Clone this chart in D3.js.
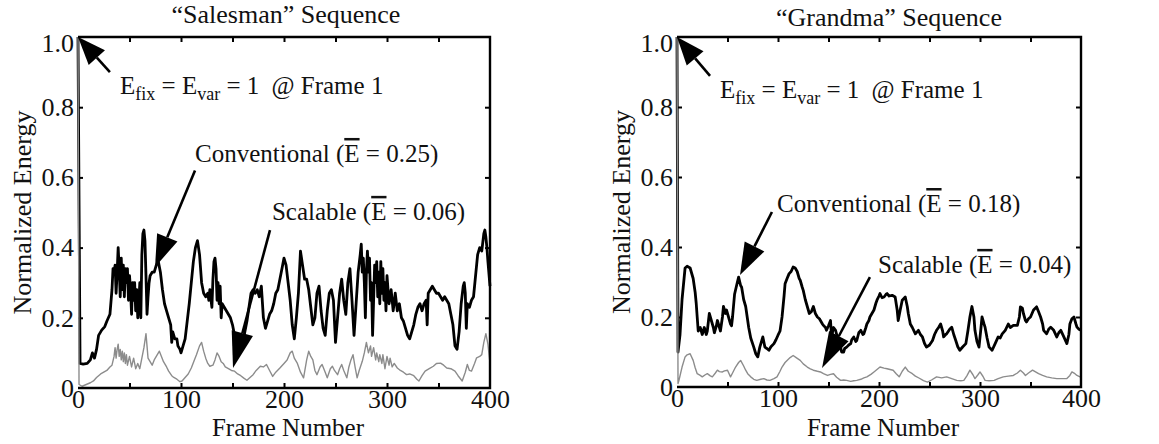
<!DOCTYPE html>
<html>
<head>
<meta charset="utf-8">
<script src="https://cdn.jsdelivr.net/npm/d3@7"></script>
<style>
	body { margin: 0; background: #fff; }
	svg text { font-family: "Liberation Serif", "Times New Roman", Times, serif !important; fill: #111; }
</style>
</head>
<body>
<script>

// Waarden: [ frame, genormaliseerde energie ]
const salesConv = [
	[0,1.0],[2,0.07],[5,0.068],[9,0.07],[12,0.08],[14,0.10],[16,0.085],[18,0.11],[20,0.15],[23,0.165],[26,0.175],[28,0.19],[31,0.21],
	[33,0.28],[34,0.34],[35,0.33],[36,0.35],[37,0.27],[38,0.33],[39,0.40],[40,0.34],[41,0.26],[42,0.37],[43,0.28],[44,0.35],[45,0.26],
	[46,0.34],[47,0.30],[48,0.34],[49,0.25],[50,0.32],[51,0.28],[52,0.21],[53,0.30],[54,0.25],[55,0.30],[56,0.22],[57,0.28],[58,0.20],
	[59,0.24],[60,0.30],[61,0.20],[62,0.38],[63,0.44],[64,0.45],[65,0.42],[66,0.32],[67,0.21],[68,0.26],[69,0.30],[70,0.32],[72,0.33],
	[74,0.33],[76,0.35],[78,0.36],[80,0.33],[82,0.28],[84,0.24],[86,0.22],[88,0.20],[90,0.18],[91,0.13],[92,0.16],[94,0.14],[96,0.14],
	[97,0.12],[99,0.11],[100,0.10],[102,0.12],[104,0.14],[106,0.19],[108,0.24],[110,0.30],[112,0.36],[114,0.40],[116,0.42],[118,0.38],
	[120,0.30],[122,0.27],[124,0.26],[126,0.27],[127,0.25],[128,0.28],[130,0.23],[131,0.31],[132,0.36],[133,0.37],[134,0.34],[135,0.25],
	[136,0.30],[137,0.24],[138,0.29],[139,0.20],[140,0.24],[142,0.23],[144,0.22],[146,0.21],[148,0.20],[150,0.18],[152,0.15],[154,0.14],
	[156,0.13],[158,0.15],[160,0.13],[162,0.16],[164,0.19],[166,0.23],[168,0.27],[170,0.28],[172,0.27],[174,0.28],[176,0.26],[178,0.29],
	[180,0.20],[182,0.17],[184,0.19],[186,0.21],[188,0.22],[190,0.24],[192,0.27],[194,0.28],[196,0.31],[198,0.34],[200,0.37],[202,0.35],
	[204,0.30],[206,0.25],[208,0.18],[210,0.14],[212,0.20],[214,0.27],[216,0.39],[218,0.35],[220,0.31],[222,0.31],[224,0.28],[226,0.23],
	[228,0.18],[230,0.20],[232,0.27],[234,0.29],[236,0.22],[238,0.17],[240,0.15],[242,0.22],[244,0.27],[246,0.28],[248,0.25],[250,0.13],
	[252,0.20],[254,0.27],[256,0.31],[258,0.25],[260,0.21],[262,0.30],[264,0.34],[266,0.25],[268,0.15],[270,0.24],[272,0.33],[274,0.38],
	[275,0.41],[276,0.33],[277,0.37],[278,0.30],[279,0.20],[280,0.33],[281,0.39],[282,0.33],[283,0.37],[284,0.25],[285,0.30],[286,0.15],
	[287,0.25],[288,0.35],[289,0.30],[290,0.36],[291,0.26],[292,0.33],[293,0.24],[294,0.36],[295,0.27],[296,0.34],[297,0.25],[298,0.30],
	[299,0.22],[300,0.32],[302,0.24],[304,0.28],[306,0.22],[308,0.27],[310,0.22],[312,0.24],[314,0.20],[316,0.19],[318,0.17],[320,0.15],
	[322,0.14],[324,0.16],[326,0.18],[328,0.21],[330,0.23],[332,0.24],[334,0.22],[336,0.24],[338,0.25],[339,0.18],[340,0.27],[342,0.28],
	[344,0.29],[346,0.28],[348,0.27],[350,0.27],[352,0.26],[354,0.25],[356,0.26],[358,0.25],[360,0.24],[362,0.21],[364,0.18],[366,0.12],
	[368,0.11],[370,0.16],[372,0.24],[374,0.29],[375,0.30],[376,0.27],[377,0.17],[378,0.24],[380,0.23],[382,0.25],[384,0.26],[386,0.32],
	[388,0.38],[390,0.40],[392,0.39],[394,0.44],[395,0.45],[396,0.43],[397,0.40],[398,0.36],[400,0.29]
]

const salesScal = [
	[0,1.0],[1,0.01],[4,0.005],[8,0.01],[12,0.015],[15,0.02],[18,0.03],[22,0.04],[25,0.045],[28,0.05],[31,0.06],[33,0.065],[35,0.09],
	[36,0.115],[37,0.085],[38,0.11],[39,0.125],[40,0.09],[41,0.11],[42,0.08],[43,0.105],[44,0.075],[45,0.1],[46,0.07],[47,0.095],[48,0.065],
	[50,0.09],[52,0.06],[54,0.085],[56,0.055],[58,0.07],[60,0.055],[62,0.085],[64,0.115],[66,0.155],[67,0.12],[68,0.085],[70,0.075],
	[72,0.065],[74,0.08],[76,0.09],[79,0.105],[81,0.09],[83,0.075],[86,0.06],[88,0.048],[91,0.035],[93,0.03],[96,0.025],[99,0.018],
	[101,0.02],[104,0.03],[107,0.04],[110,0.057],[113,0.08],[115,0.095],[118,0.12],[120,0.13],[122,0.105],[124,0.085],[126,0.07],
	[128,0.062],[131,0.065],[133,0.08],[135,0.1],[137,0.09],[139,0.075],[141,0.07],[143,0.06],[146,0.055],[149,0.05],[152,0.048],
	[155,0.04],[158,0.035],[161,0.028],[164,0.022],[167,0.03],[170,0.038],[173,0.05],[177,0.062],[180,0.06],[183,0.067],[186,0.05],
	[189,0.033],[192,0.045],[196,0.057],[200,0.07],[203,0.08],[206,0.1],[208,0.105],[210,0.085],[213,0.07],[216,0.045],[219,0.029],
	[222,0.08],[224,0.105],[226,0.09],[228,0.08],[230,0.05],[232,0.038],[235,0.06],[237,0.067],[240,0.045],[242,0.029],[245,0.055],
	[247,0.062],[249,0.05],[252,0.038],[254,0.055],[256,0.067],[258,0.05],[261,0.029],[263,0.06],[265,0.08],[267,0.095],[269,0.06],
	[271,0.029],[273,0.05],[276,0.076],[278,0.1],[280,0.13],[282,0.1],[284,0.12],[285,0.09],[287,0.115],[289,0.08],[290,0.1],[292,0.075],
	[293,0.095],[295,0.07],[296,0.095],[298,0.055],[300,0.09],[302,0.065],[303,0.085],[305,0.06],[307,0.07],[310,0.057],[313,0.05],
	[316,0.045],[319,0.038],[322,0.04],[326,0.035],[329,0.025],[331,0.02],[334,0.035],[337,0.048],[341,0.055],[345,0.062],[348,0.07],
	[352,0.071],[355,0.065],[358,0.057],[362,0.055],[366,0.048],[369,0.035],[373,0.02],[376,0.045],[378,0.067],[380,0.05],[382,0.048],
	[385,0.07],[387,0.086],[390,0.09],[392,0.095],[394,0.13],[396,0.155],[398,0.125],[400,0.07]
]

const grandConv = [
	[0,1.0],[1,0.1],[3,0.15],[5,0.25],[7,0.31],[8,0.34],[10,0.345],[13,0.34],[16,0.31],[18,0.27],[19,0.24],[20,0.2],[21,0.16],[23,0.17],
	[25,0.15],[27,0.17],[29,0.15],[30,0.16],[32,0.21],[34,0.19],[36,0.17],[37,0.155],[39,0.175],[40,0.19],[42,0.17],[43,0.16],[45,0.2],
	[46,0.23],[48,0.21],[49,0.22],[51,0.2],[53,0.18],[54,0.175],[55,0.2],[57,0.265],[59,0.29],[61,0.314],[63,0.29],[64,0.285],[66,0.25],
	[68,0.23],[70,0.19],[71,0.17],[73,0.14],[76,0.114],[78,0.095],[80,0.086],[82,0.114],[85,0.143],[87,0.114],[89,0.11],[91,0.105],
	[93,0.115],[96,0.124],[98,0.135],[100,0.148],[102,0.16],[104,0.2],[106,0.26],[107,0.295],[109,0.31],[111,0.324],[113,0.33],[115,0.343],
	[117,0.34],[119,0.33],[121,0.31],[122,0.305],[124,0.285],[125,0.276],[127,0.25],[129,0.23],[131,0.21],[133,0.215],[135,0.23],[137,0.21],
	[139,0.2],[141,0.195],[142,0.19],[144,0.18],[145,0.176],[147,0.17],[148,0.162],[150,0.175],[152,0.19],[153,0.143],[155,0.17],[157,0.162],
	[159,0.14],[162,0.114],[163,0.1],[165,0.1],[166,0.11],[168,0.114],[170,0.12],[172,0.124],[173,0.135],[175,0.143],[177,0.13],[178,0.133],
	[180,0.155],[182,0.162],[184,0.15],[185,0.152],[187,0.17],[188,0.18],[190,0.19],[191,0.2],[193,0.21],[195,0.22],[197,0.24],[198,0.248],
	[200,0.26],[201,0.267],[203,0.255],[205,0.257],[207,0.265],[208,0.267],[210,0.26],[213,0.262],[216,0.257],[218,0.22],[219,0.19],
	[221,0.22],[223,0.248],[226,0.257],[228,0.23],[229,0.21],[231,0.18],[233,0.17],[236,0.152],[239,0.162],[241,0.15],[243,0.143],
	[245,0.125],[247,0.114],[250,0.12],[253,0.133],[255,0.15],[257,0.162],[259,0.17],[261,0.18],[263,0.16],[264,0.143],[266,0.15],
	[267,0.152],[270,0.165],[272,0.171],[274,0.15],[276,0.133],[278,0.115],[280,0.105],[283,0.115],[286,0.124],[288,0.16],[290,0.2],
	[292,0.23],[294,0.2],[295,0.162],[297,0.13],[299,0.114],[301,0.17],[302,0.2],[304,0.18],[305,0.171],[307,0.14],[309,0.114],[312,0.105],
	[315,0.124],[318,0.143],[320,0.14],[322,0.152],[325,0.162],[328,0.18],[330,0.17],[333,0.176],[337,0.176],[339,0.2],[340,0.229],
	[342,0.225],[343,0.21],[345,0.19],[346,0.186],[348,0.195],[350,0.2],[353,0.22],[356,0.229],[358,0.215],[360,0.2],[362,0.18],[363,0.162],
	[366,0.152],[368,0.165],[370,0.171],[373,0.162],[376,0.143],[378,0.155],[380,0.162],[383,0.143],[386,0.124],[388,0.15],[389,0.18],
	[391,0.195],[393,0.2],[395,0.18],[396,0.171],[398,0.165],[400,0.162]
]

const grandScal = [
	[0,1.0],[1,0.01],[2,0.02],[5,0.057],[8,0.086],[10,0.092],[13,0.095],[16,0.076],[18,0.055],[20,0.038],[23,0.033],[25,0.029],[28,0.035],
	[30,0.038],[33,0.032],[35,0.029],[38,0.04],[40,0.048],[42,0.044],[45,0.043],[47,0.046],[50,0.048],[53,0.029],[55,0.04],[58,0.057],
	[61,0.07],[63,0.076],[66,0.06],[68,0.048],[70,0.038],[73,0.029],[76,0.022],[79,0.019],[83,0.022],[86,0.024],[89,0.02],[92,0.019],
	[96,0.024],[99,0.029],[102,0.045],[104,0.057],[107,0.07],[109,0.076],[112,0.084],[115,0.09],[118,0.084],[122,0.076],[125,0.066],
	[129,0.057],[132,0.052],[135,0.048],[139,0.045],[142,0.043],[145,0.038],[149,0.033],[152,0.036],[155,0.038],[158,0.028],[162,0.019],
	[165,0.02],[168,0.019],[172,0.016],[175,0.018],[178,0.019],[182,0.022],[185,0.026],[188,0.029],[192,0.036],[195,0.043],[198,0.05],
	[201,0.057],[205,0.054],[208,0.052],[211,0.05],[214,0.048],[217,0.038],[220,0.029],[223,0.045],[226,0.057],[229,0.045],[233,0.038],
	[236,0.031],[240,0.025],[244,0.018],[248,0.014],[252,0.02],[257,0.029],[262,0.026],[267,0.029],[272,0.024],[277,0.019],[281,0.018],
	[284,0.019],[287,0.032],[290,0.048],[293,0.035],[295,0.024],[298,0.035],[300,0.043],[303,0.03],[305,0.019],[309,0.018],[314,0.019],
	[318,0.024],[323,0.029],[328,0.031],[333,0.033],[337,0.04],[340,0.048],[343,0.04],[345,0.033],[348,0.04],[352,0.048],[355,0.043],
	[358,0.038],[362,0.033],[366,0.029],[371,0.026],[376,0.024],[381,0.024],[386,0.024],[389,0.033],[391,0.043],[394,0.038],[396,0.033],
	[399,0.029],[400,0.03]
]

const xTicks = [ 0, 100, 200, 300, 400 ],
	xMinor = [ 50, 100, 150, 200, 250, 300, 350 ],
	yTicks = [ 0, 0.2, 0.4, 0.6, 0.8, 1.0 ],
	titles = [ '“Salesman” Sequence', '“Grandma” Sequence' ],
	convMeans = [ '0.25', '0.18' ],
	scalMeans = [ '0.06', '0.04' ]

const serif = '"Liberation Serif", "Times New Roman", Times, serif'

const svg = d3.select( 'body' )
	.append( 'svg' )
	.attr( 'width', 1159 )
	.attr( 'height', 444 )
	.attr( 'font-family', serif )

// Twee panelen naast elkaar. Annotaties staan in data coordinaten
const panels = [
	{ left: 78, right: 490, top: 37, bottom: 388, titleDx: 2, titleY: 23, conv: salesConv, scal: salesScal,
		efix: [ 40.8, 0.838 ], convText: [ 113.6, 0.644 ], scalText: [ 188.3, 0.479 ],
		arrows: [ [ 31, 0.90, 0, 1.0, 28 ], [ 113.6, 0.62, 74.8, 0.345, 32 ], [ 186.4, 0.45, 150.5, 0.057, 36 ] ] },
	{ left: 677, right: 1081, top: 37, bottom: 387, titleDx: 10, titleY: 26, conv: grandConv, scal: grandScal,
		efix: [ 42.6, 0.826 ], convText: [ 99, 0.5 ], scalText: [ 199, 0.326 ],
		arrows: [ [ 32.7, 0.889, 0, 1.0, 28 ], [ 94, 0.5, 62.4, 0.32, 32 ], [ 191, 0.314, 143.6, 0.054, 36 ] ] }
]

panels.forEach( ( p, i ) => drawPanel( p, i ) )

// Overal hetzelfde lettertype, ook in de assen van d3
svg.selectAll( 'text' )
	.style( 'font-family', serif )

function drawPanel( p, i ) {

	const x = d3.scaleLinear().domain( [ 0, 400 ] ).range( [ p.left, p.right ] ),
		y = d3.scaleLinear().domain( [ 0, 1 ] ).range( [ p.bottom, p.top ] ),
		g = svg.append( 'g' ),
		line = d3.line()
			.x( d => x( d[ 0 ] ) )
			.y( d => y( d[ 1 ] ) )

	// Kleine tickjes naar binnen, op alle vier de kanten
	const inner = [
		[ d3.axisBottom( x ).tickValues( xMinor ), `translate( 0, ${ p.bottom } )` ],
		[ d3.axisTop( x ).tickValues( xMinor ), `translate( 0, ${ p.top } )` ],
		[ d3.axisLeft( y ).tickValues( yTicks.slice( 1, 5 ) ), `translate( ${ p.left }, 0 )` ],
		[ d3.axisRight( y ).tickValues( yTicks.slice( 1, 5 ) ), `translate( ${ p.right }, 0 )` ]
	]

	inner.forEach( a => {
		g.append( 'g' )
			.attr( 'transform', a[ 1 ] )
			.call( a[ 0 ].tickSize( -5 ).tickFormat( '' ) )
			.call( s => s.select( '.domain' ).remove() )
			.selectAll( 'line' )
			.attr( 'stroke', '#000' )
			.attr( 'stroke-width', 2 )
	})

	// Lijnen: eerst de conventionele, de schaalbare er overheen
	g.append( 'path' )
		.datum( p.conv )
		.attr( 'fill', 'none' )
		.attr( 'stroke', '#000' )
		.attr( 'stroke-width', 2.8 )
		.attr( 'stroke-linejoin', 'round' )
		.attr( 'd', line )

	g.append( 'path' )
		.datum( p.scal )
		.attr( 'fill', 'none' )
		.attr( 'stroke', '#8c8c8c' )
		.attr( 'stroke-width', 1.4 )
		.attr( 'stroke-linejoin', 'round' )
		.attr( 'd', line )

	// Kader (links laat ik open, daar loopt de grijze lijn)
	g.append( 'path' )
		.attr( 'd', `M${ p.left },${ p.top }H${ p.right }V${ p.bottom }H${ p.left }` )
		.attr( 'fill', 'none' )
		.attr( 'stroke', '#000' )
		.attr( 'stroke-width', 2.4 )

	g.append( 'g' )
		.attr( 'transform', `translate( 0, ${ p.bottom } )` )
		.call( d3.axisBottom( x ).tickValues( xTicks ).tickSize( 0 ).tickPadding( 2 ) )
		.call( s => s.select( '.domain' ).remove() )
		.selectAll( 'text' )
		.style( 'font-size', '26px' )

	g.append( 'g' )
		.attr( 'transform', `translate( ${ p.left }, 0 )` )
		.call( d3.axisLeft( y ).tickValues( yTicks ).tickSize( 0 ).tickPadding( 4 )
			.tickFormat( d => d === 0 ? '0' : d3.format( '.1f' )( d ) ) )
		.call( s => s.select( '.domain' ).remove() )
		.selectAll( 'text' )
		.style( 'font-size', '26px' )
		.attr( 'dy', d => d === 1 ? '0.55em' : '0.32em' )

	g.append( 'text' )
		.attr( 'x', ( p.left + p.right ) / 2 + p.titleDx )
		.attr( 'y', p.titleY )
		.attr( 'text-anchor', 'middle' )
		.style( 'font-size', '26px' )
		.text( titles[ i ] )

	g.append( 'text' )
		.attr( 'x', ( p.left + p.right ) / 2 + 4 )
		.attr( 'y', 436 )
		.attr( 'text-anchor', 'middle' )
		.style( 'font-size', '25px' )
		.text( 'Frame Number' )

	g.append( 'text' )
		.attr( 'transform', `translate( ${ p.left - 47 }, ${ ( p.top + p.bottom ) / 2 } ) rotate( -90 )` )
		.attr( 'text-anchor', 'middle' )
		.style( 'font-size', '26px' )
		.text( 'Normalized Energy' )

	// E_fix = E_var = 1 @ Frame 1
	const ef = g.append( 'text' )
		.attr( 'x', x( p.efix[ 0 ] ) )
		.attr( 'y', y( p.efix[ 1 ] ) )
		.style( 'font-size', '25px' )

	ef.append( 'tspan' ).text( 'E' )
	ef.append( 'tspan' ).attr( 'dy', 6 ).style( 'font-size', '18px' ).text( 'fix' )
	ef.append( 'tspan' ).attr( 'dy', -6 ).text( ' = E' )
	ef.append( 'tspan' ).attr( 'dy', 6 ).style( 'font-size', '18px' ).text( 'var' )
	ef.append( 'tspan' ).attr( 'dy', -6 ).text( ' = 1 ' )
	ef.append( 'tspan' ).attr( 'dx', 6 ).text( '@ Frame 1' )

	meanLabel( g, x( p.convText[ 0 ] ), y( p.convText[ 1 ] ), 'Conventional', convMeans[ i ] )
	meanLabel( g, x( p.scalText[ 0 ] ), y( p.scalText[ 1 ] ), 'Scalable', scalMeans[ i ] )

	p.arrows.forEach( a => arrow( g, x( a[ 0 ] ), y( a[ 1 ] ), x( a[ 2 ] ), y( a[ 3 ] ), a[ 4 ], 22 ) )

}

function meanLabel( g, px, py, name, mean ) {

	const t = g.append( 'text' )
		.attr( 'x', px )
		.attr( 'y', py )
		.style( 'font-size', '25px' )

	t.append( 'tspan' ).text( `${ name } (` )
	t.append( 'tspan' ).style( 'text-decoration', 'overline' ).text( 'E' )
	t.append( 'tspan' ).text( ` = ${ mean })` )

}

// Pijl van (x1, y1) naar de punt (x2, y2) met een dichte driehoek
function arrow( g, x1, y1, x2, y2, head, wide ) {

	const a = Math.atan2( y2 - y1, x2 - x1 ),
		bx = x2 - head * Math.cos( a ),
		by = y2 - head * Math.sin( a ),
		px = Math.sin( a ) * wide / 2,
		py = -Math.cos( a ) * wide / 2

	g.append( 'line' )
		.attr( 'x1', x1 )
		.attr( 'y1', y1 )
		.attr( 'x2', bx )
		.attr( 'y2', by )
		.attr( 'stroke', '#000' )
		.attr( 'stroke-width', 2.6 )

	g.append( 'path' )
		.attr( 'd', `M${ x2 },${ y2 }L${ bx + px },${ by + py }L${ bx - px },${ by - py }Z` )
		.attr( 'fill', '#000' )

}

</script>
</body>
</html>
